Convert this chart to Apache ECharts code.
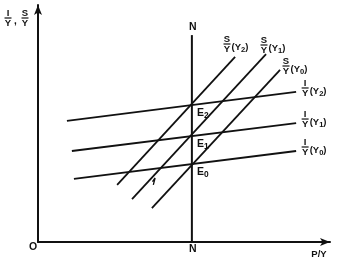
<!DOCTYPE html>
<html><head><meta charset="utf-8">
<script src="https://cdn.jsdelivr.net/npm/echarts@6/dist/echarts.min.js"></script>
<style>html,body{margin:0;padding:0;background:#fff}#c{width:361px;height:261px}</style>
</head><body><div id="c"></div>
<script>
// ---- data (conceptual units 0..100 on both axes) ----
const curveTags = ['2', '1', '0'];
const iY2 = [[9.9, 51.1], [88.4, 63.3]];
const iY1 = [[11.6, 38.4], [88.4, 50.2]];
const iY0 = [[12.3, 26.6], [88.4, 38.4]];
const sY2 = [[27.1, 24.1], [67.5, 78.1]];
const sY1 = [[32.2, 18.1], [78.1, 79.3]];
const sY0 = [[39.0, 14.3], [82.9, 72.6]];
const nLine = [[52.7, 0], [52.7, 87.3]];
const shiftMark = [[39.2, 25.5], [40.1, 27.0], [39.5, 24.1]];

const INK = '#111';
const FONT = '"Liberation Sans", Arial, sans-serif';
const chart = echarts.init(document.getElementById('c'), null, {renderer: 'canvas'});

function lineSeries(data, w) {
  return {type: 'line', data: data, symbol: 'none', silent: true, animation: false,
    lineStyle: {color: INK, width: w || 1.8}, z: 3};
}

chart.setOption({
  animation: false,
  grid: {left: 38, right: 31, top: 5, bottom: 19},
  xAxis: {type: 'value', min: 0, max: 100,
    axisLine: {lineStyle: {color: INK, width: 2}, symbol: ['none', 'arrow'], symbolSize: [6, 10]},
    axisTick: {show: false}, axisLabel: {show: false}, splitLine: {show: false}},
  yAxis: {type: 'value', min: 0, max: 100,
    axisLine: {lineStyle: {color: INK, width: 2}, symbol: ['none', 'arrow'], symbolSize: [6, 10]},
    axisTick: {show: false}, axisLabel: {show: false}, splitLine: {show: false}},
  series: [
    lineSeries(iY2), lineSeries(iY1), lineSeries(iY0),
    lineSeries(sY2), lineSeries(sY1), lineSeries(sY0),
    lineSeries(nLine, 2),
    lineSeries(shiftMark, 1.3)
  ]
});

// ---- text helpers ----
const mctx = document.createElement('canvas').getContext('2d');
function tw(t, fs) { mctx.font = 'bold ' + fs + 'px ' + FONT; return mctx.measureText(t).width; }
function txt(t, x, y, fs, align) {
  return {type: 'text', x: x, y: y, silent: true, z: 10,
    style: {text: t, font: 'bold ' + fs + 'px ' + FONT, fill: INK, align: align || 'left', verticalAlign: 'middle'}};
}
function segText(segs, x, y, fs) {
  const els = []; let cx = x;
  segs.forEach(s => {
    const f = s.sub ? fs * 0.8 : fs;
    els.push(txt(s.t, cx, y + (s.sub ? fs * 0.25 : 0), f));
    cx += tw(s.t, f);
  });
  return els;
}
function frac(top, cx, cy, fs) {
  return [
    txt(top, cx, cy - fs * 0.45, fs, 'center'),
    {type: 'line', silent: true, z: 10, shape: {x1: cx - 3.5, y1: cy, x2: cx + 3.5, y2: cy}, style: {stroke: INK, lineWidth: 1.2}},
    txt('Y', cx, cy + fs * 0.55, fs, 'center')
  ];
}
function yTag(tag) { return [{t: '(Y'}, {t: tag, sub: true}, {t: ')'}]; }

const px = p => chart.convertToPixel({gridIndex: 0}, p);
function yAt(line, x) {
  const [a, b] = line; return a[1] + (b[1] - a[1]) * (x - a[0]) / (b[0] - a[0]);
}

let g = [];
// I/Y labels at right ends
[iY2, iY1, iY0].forEach((ln, i) => {
  const e = px(ln[1]);
  g = g.concat(frac('I', e[0] + 9, e[1] - 4, 9.5), segText(yTag(curveTags[i]), e[0] + 13.5, e[1] - 0.5, 9.5));
});
// S/Y labels near top ends
const sLabelPos = [[227, 44], [264, 45], [286, 66]];
sLabelPos.forEach((p, i) => {
  g = g.concat(frac('S', p[0], p[1], 9.5), segText(yTag(curveTags[i]), p[0] + 4.5, p[1] + 3.5, 9.5));
});
// equilibrium labels
[iY2, iY1, iY0].forEach((ln, i) => {
  const p = px([nLine[0][0], yAt(ln, nLine[0][0])]);
  g = g.concat(segText([{t: 'E'}, {t: curveTags[i], sub: true}], p[0] + 5, p[1] + 8, 10.5));
});
// axis texts
const origin = px([0, 0]);
const nBottom = px(nLine[0]);
const nTop = px(nLine[1]);
g.push(txt('O', origin[0] - 5, origin[1] + 5, 10.5, 'center'));
g.push(txt('N', nBottom[0] + 1, nBottom[1] + 7, 10.5, 'center'));
g.push(txt('N', nTop[0] + 1, nTop[1] - 8, 10.5, 'center'));
g.push(txt('P/Y', 319, 254, 9.5, 'center'));
g = g.concat(frac('I', 8, 18, 9.5), [txt(',', 15.5, 21, 10, 'center')], frac('S', 25, 18, 9.5));

chart.setOption({graphic: {elements: g}});
</script>
</body></html>
